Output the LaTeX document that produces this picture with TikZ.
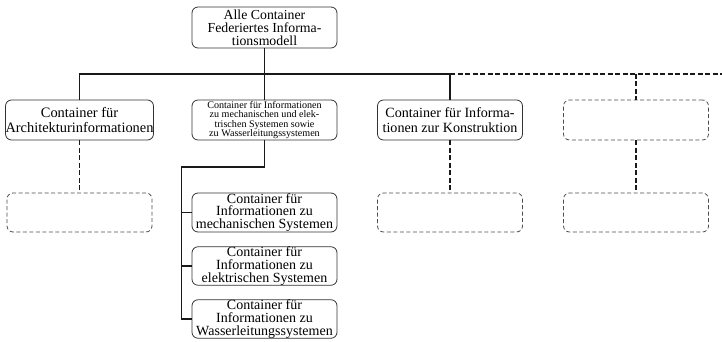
\documentclass[tikz,border=0pt]{standalone}
\usepackage{fontspec}
\setmainfont{Liberation Serif}
\begin{document}
\begin{tikzpicture}[x=1pt,y=-1pt,
  box/.style={draw=black!80, line width=0.8pt, rounded corners=6pt, minimum width=145pt,
    minimum height=40pt, inner sep=0pt, align=center, font=\fontsize{14}{12.8}\selectfont},
  emptybox/.style={draw=black!70, line width=0.8pt, dashed, dash pattern=on 4pt off 2.5pt,
    rounded corners=6pt, minimum width=145pt, minimum height=39pt, inner sep=0pt},
  conn/.style={line width=1.2pt, black!90},
  dconn/.style={line width=1.4pt, black!90, dash pattern=on 5pt off 2.5pt}]
\useasboundingbox (0,0) rectangle (722,342);

% top level
\node[box, minimum height=41pt, font=\fontsize{13.8}{12.9}\selectfont] (top) at (264.5,27.5)
  {Alle Container\\Federiertes Informa-\\tionsmodell};

% second level
\node[box, font=\fontsize{14.4}{15}\selectfont] (arch) at (79.5,120) {Container für\\Architekturinformationen};
\node[box, font=\fontsize{10.1}{9.4}\selectfont] (mep) at (264.5,120)
  {Container für Informationen\\zu mechanischen und elek-\\trischen Systemen sowie\\zu Wasserleitungssystemen};
\node[box, font=\fontsize{14.1}{15}\selectfont] (kon) at (450,120) {Container für Informa-\\tionen zur Konstruktion};
\node[emptybox, minimum height=40pt] (extra) at (636,120) {};

% third level
\node[emptybox] (arch2) at (79.5,212.5) {};
\node[emptybox] (kon2) at (450,212.5) {};
\node[emptybox] (extra2) at (636,212.5) {};

\node[box, minimum height=39pt] (mech) at (264.5,212.5) {Container für\\Informationen zu\\mechanischen Systemen};
\node[box, minimum height=38pt] (elek) at (264.5,266) {Container für\\Informationen zu\\elektrischen Systemen};
\node[box, minimum height=38pt] (wass) at (264.5,319) {Container für\\Informationen zu\\Wasserleitungssystemen};

% bus coordinates
\coordinate (bus) at (79.5,74);
\coordinate (busend) at (722,74);
\coordinate (fork) at (181.5,167);

% solid connectors
\draw[conn] (top.south) -- (mep.north);
\draw[conn] (arch.north) -- (arch.north |- bus) -- (kon.north |- bus) -- (kon.north);
\draw[conn] (mep.south) -- (mep.south |- fork) -- (fork) -- (fork |- wass.west) -- (wass.west);
\draw[conn] (fork |- mech.west) -- (mech.west);
\draw[conn] (fork |- elek.west) -- (elek.west);

% dashed connectors
\draw[dconn] (kon.north |- bus) -- (busend);
\draw[dconn] (extra.north |- bus) -- (extra.north);
\draw[dconn] (arch.south) -- (arch2.north);
\draw[dconn] (kon.south) -- (kon2.north);
\draw[dconn] (extra.south) -- (extra2.north);
\end{tikzpicture}
\end{document}
